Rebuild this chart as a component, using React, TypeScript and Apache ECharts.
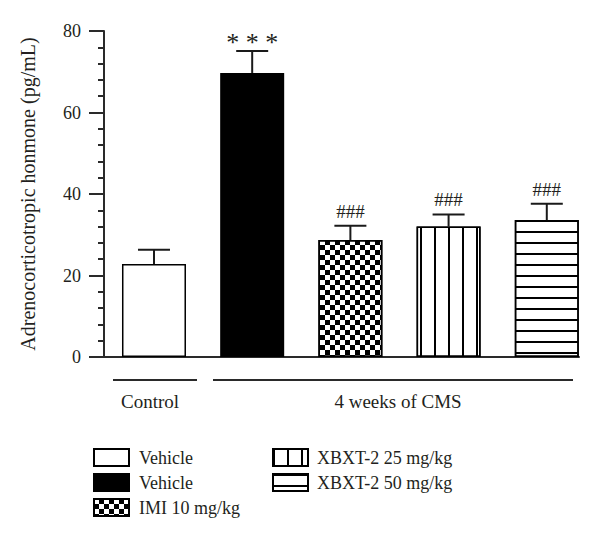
import React, { useEffect, useRef } from "react";
import * as echarts from "echarts";

const groupNames = ["Vehicle", "Vehicle ", "IMI 10 mg/kg", "XBXT-2 25 mg/kg", "XBXT-2 50 mg/kg"];
const xPositions = [1, 2, 3, 4, 5];
const means = [22.8, 69.7, 28.7, 32.0, 33.6];
const errTops = [26.3, 75.1, 32.2, 35.0, 37.6];
const marks = ["", "* * *", "###", "###", "###"];
const yTicks = [0, 20, 40, 60, 80];
const groupLabels = ["Control", "4 weeks of CMS"];

const FONT = '"Liberation Serif", "Times New Roman", serif';
const INK = "#231f20";

const fills = ["#ffffff", "#000000", "#ffffff", "#ffffff", "#ffffff"];
const decals: any[] = [
  null,
  null,
  { symbol: "rect", symbolSize: 1, color: "#000", backgroundColor: "#fff", dashArrayX: [[5, 5], [0, 5, 5, 0]], dashArrayY: [5, 0], rotation: 0 },
  { symbol: "rect", symbolSize: 1, color: "#000", backgroundColor: "#fff", dashArrayX: [2, 12], dashArrayY: [1, 0], rotation: 0 },
  { symbol: "rect", symbolSize: 1, color: "#000", backgroundColor: "#fff", dashArrayX: [1, 0], dashArrayY: [2, 9], rotation: 0 },
];

export default function App() {
  const ref = useRef<HTMLDivElement>(null);
  useEffect(() => {
    if (!ref.current) return;
    const chart = echarts.init(ref.current, undefined, { renderer: "svg" });
    const barSeries = groupNames.map((name, i) => ({
      type: "bar",
      name,
      data: [[xPositions[i], means[i]]],
      barWidth: 64,
      barGap: "-100%",
      itemStyle: {
        color: fills[i],
        borderColor: "#000",
        borderWidth: 1.5,
        ...(decals[i] ? { decal: decals[i] } : {}),
      },
      silent: true,
    }));
    const legendCommon = {
      orient: "vertical",
      top: 443,
      itemWidth: 35,
      itemHeight: 17,
      itemGap: 6,
      icon: "rect",
      selectedMode: false,
    };
    const option: any = {
      animation: false,
      backgroundColor: "#ffffff",
      grid: { left: 104, right: 21, top: 31, bottom: 181, containLabel: false },
      xAxis: {
        type: "value",
        min: 0.491,
        max: 5.328,
        axisLine: { show: true, onZero: false, lineStyle: { color: "#2a2a2a", width: 2 } },
        axisTick: { show: false },
        axisLabel: { show: false },
        splitLine: { show: false },
      },
      yAxis: {
        type: "value",
        min: yTicks[0],
        max: yTicks[yTicks.length - 1],
        interval: 20,
        name: "Adrenocorticotropic honmone (pg/mL)",
        nameLocation: "middle",
        nameRotate: 90,
        nameGap: 66,
        nameTextStyle: { fontFamily: FONT, fontSize: 20, color: INK },
        axisLine: { show: true, lineStyle: { color: "#2a2a2a", width: 2 } },
        axisTick: { show: true, length: 15, lineStyle: { color: "#2a2a2a", width: 2 } },
        minorTick: { show: true, splitNumber: 5, length: 6, lineStyle: { color: "#2a2a2a", width: 2 } },
        axisLabel: { margin: 23, fontFamily: FONT, fontSize: 18, color: INK },
        splitLine: { show: false },
      },
      legend: [
        {
          ...legendCommon,
          data: groupNames.slice(0, 3),
          left: 88,
          formatter: (n: string) => n.trim(),
          textStyle: { fontFamily: FONT, fontSize: 18, color: INK, padding: [0, 0, 0, 5] },
        },
        {
          ...legendCommon,
          data: groupNames.slice(3),
          left: 267,
          textStyle: { fontFamily: FONT, fontSize: 18, color: INK, padding: [0, 0, 0, 4] },
        },
      ],
      graphic: [
        { type: "line", shape: { x1: 113, y1: 380, x2: 197, y2: 380 }, style: { stroke: "#2a2a2a", lineWidth: 2 } },
        { type: "line", shape: { x1: 213, y1: 380, x2: 573, y2: 380 }, style: { stroke: "#2a2a2a", lineWidth: 2 } },
        { type: "text", x: 150, y: 401, style: { text: groupLabels[0], font: `19px ${FONT}`, fill: INK, textAlign: "center", textVerticalAlign: "middle" } },
        { type: "text", x: 398, y: 401, style: { text: groupLabels[1], font: `19px ${FONT}`, fill: INK, textAlign: "center", textVerticalAlign: "middle" } },
      ],
      series: [
        ...barSeries,
        {
          type: "custom",
          name: "error",
          silent: true,
          z: 5,
          data: xPositions.map((x, i) => [x, means[i], errTops[i], i]),
          encode: { x: 0, y: [1, 2] },
          renderItem: (params: any, api: any) => {
            const x = api.value(0);
            const p1 = api.coord([x, api.value(1)]);
            const p2 = api.coord([x, api.value(2)]);
            const idx = api.value(3);
            const mark = marks[idx];
            const isStar = mark.indexOf("*") >= 0;
            return {
              type: "group",
              children: [
                { type: "line", shape: { x1: p1[0], y1: p1[1], x2: p2[0], y2: p2[1] }, style: { stroke: "#1a1a1a", lineWidth: 2 } },
                { type: "line", shape: { x1: p2[0] - 16, y1: p2[1], x2: p2[0] + 16, y2: p2[1] }, style: { stroke: "#1a1a1a", lineWidth: 2 } },
                {
                  type: "text",
                  x: p2[0],
                  y: p2[1] + (isStar ? 5 : -5),
                  style: {
                    text: mark,
                    font: `${isStar ? 26 : 19}px ${FONT}`,
                    fill: INK,
                    textAlign: "center",
                    textVerticalAlign: "bottom",
                  },
                },
              ],
            };
          },
        },
      ],
    };
    chart.setOption(option);
    return () => chart.dispose();
  }, []);
  return <div ref={ref} style={{ position: "fixed", left: 0, top: 0, width: 600, height: 538 }} />;
}
